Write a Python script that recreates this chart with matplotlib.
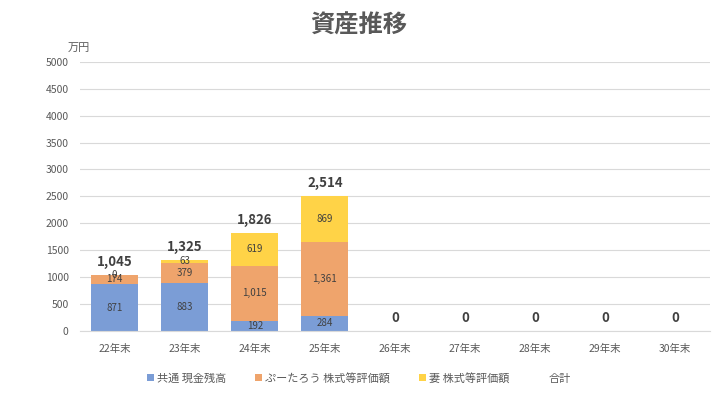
import matplotlib.pyplot as plt
import numpy as np

plt.rcParams['font.family'] = ['Noto Sans CJK JP', 'DejaVu Sans']

years = ["22年末", "23年末", "24年末", "25年末", "26年末", "27年末", "28年末", "29年末", "30年末"]
cash = [871, 883, 192, 284, 0, 0, 0, 0, 0]
putaro = [174, 379, 1015, 1361, 0, 0, 0, 0, 0]
wife = [0, 63, 619, 869, 0, 0, 0, 0, 0]
totals = [1045, 1325, 1826, 2514, 0, 0, 0, 0, 0]
n_labeled = 4  # years that have segment labels

series = [
    ("共通 現金残高", cash, "#7B9DD6"),
    ("ぷーたろう 株式等評価額", putaro, "#EFA46C"),
    ("妻 株式等評価額", wife, "#FFD347"),
]

fig = plt.figure(figsize=(7.18, 3.94), dpi=100)
ax = fig.add_axes([0.111, 0.160, 0.878, 0.683])

x = np.arange(len(years))
bottom = np.zeros(len(years))
handles = []
for name, vals, color in series:
    vals = np.array(vals, dtype=float)
    h = ax.bar(x, vals, 0.67, bottom=bottom, color=color, label=name, zorder=2)
    handles.append(h)
    for i in range(n_labeled):
        ax.text(x[i], bottom[i] + vals[i] / 2, f"{int(vals[i]):,}",
                ha="center", va="center", fontsize=7, color="#404040", zorder=3)
    bottom += vals

# total labels
for i, t in enumerate(totals):
    ax.annotate(f"{t:,}", (x[i], t), xytext=(0, 4), textcoords="offset points",
                ha="center", va="bottom", fontsize=9.5, fontweight="bold", color="#404040")

# invisible total series for legend
tot_handle = plt.Rectangle((0, 0), 1, 1, fc="none", ec="none", label="合計")
handles.append(tot_handle)

ax.set_xlim(-0.5, len(years) - 0.5)
ax.set_ylim(0, 5000)
ax.set_yticks(np.arange(0, 5001, 500))
ax.set_xticks(x)
ax.set_xticklabels(years)
ax.tick_params(axis="both", length=0, labelsize=7.5, colors="#595959")
ax.tick_params(axis="y", pad=8)
ax.tick_params(axis="x", pad=9)
ax.grid(axis="y", color="#D9D9D9", linewidth=0.8, zorder=0)
for s in ["top", "right", "left"]:
    ax.spines[s].set_visible(False)
ax.spines["bottom"].set_color("#D9D9D9")

fig.text(0.11, 0.865, "万円", fontsize=8, color="#595959", ha="center", va="bottom")
fig.text(0.5, 0.935, "資産推移", fontsize=17.5, fontweight="bold", color="#595959",
         ha="center", va="center")

fig.legend(handles=handles, labels=[s[0] for s in series] + ["合計"],
           loc="center", bbox_to_anchor=(0.5, 0.04), ncol=4, frameon=False,
           fontsize=8, labelcolor="#595959", handlelength=0.6, handleheight=0.6,
           handletextpad=0.3, columnspacing=2.6)

fig.savefig("out.png", dpi=100)
